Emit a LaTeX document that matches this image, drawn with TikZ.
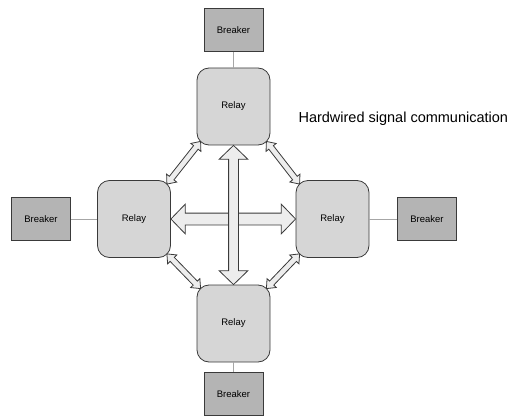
\documentclass[tikz,border=0pt]{standalone}
\usepackage{fontspec}
\setmainfont{Liberation Sans}
\usepackage{xcolor}
\usetikzlibrary{calc,shapes,arrows}

\definecolor{relaygray}{HTML}{D6D6D6}
\definecolor{breakergray}{HTML}{B4B4B4}
\definecolor{arrowgray}{HTML}{EDEDED}
\definecolor{edgegray}{HTML}{3A3A3A}

\tikzset{
	relay/.style={draw=edgegray, fill=relaygray, rounded corners=12pt, minimum width=73pt, minimum height=77pt, font=\fontsize{9.5}{11}\selectfont, line width=0.8pt},
	breaker/.style={draw=edgegray, fill=breakergray, minimum width=59pt, minimum height=43pt, font=\fontsize{9.5}{11}\selectfont, line width=0.8pt},
	link/.style={draw=gray!70, line width=0.8pt},
	commarrow/.style={double arrow, draw=edgegray, fill=arrowgray, line width=0.8pt, inner xsep=0pt, outer sep=0pt, minimum width=0pt}
}

\newcommand{\dblarrow}[5]{%
	\path let \p1=(#1), \p2=(#2), \n1={atan2(\y2-\y1,\x2-\x1)}, \n2={veclen(\x2-\x1,\y2-\y1)} in
		node[commarrow, rotate=\n1, minimum height=\n2, inner ysep=#3, double arrow head extend=#4, double arrow tip angle=#5] at ($(#1)!0.5!(#2)$) {};
}

\begin{document}
\begin{tikzpicture}[x=1pt, y=1pt]
		\useasboundingbox (0,0) rectangle (512,416);

		\draw (233.5, 309.5) node[relay] (relT) {Relay};
		\draw (134, 197)     node[relay] (relL) {Relay};
		\draw (332.5, 197)   node[relay] (relR) {Relay};
		\draw (233.5, 92.5)  node[relay] (relB) {Relay};

		\draw (233.5, 386) node[breaker] (brkT) {Breaker};
		\draw (41, 197)    node[breaker] (brkL) {Breaker};
		\draw (427, 197)   node[breaker] (brkR) {Breaker};
		\draw (233.5, 22)  node[breaker] (brkB) {Breaker};

		\draw[link] (brkT) -- (relT);
		\draw[link] (brkL) -- (relL);
		\draw[link] (brkR) -- (relR);
		\draw[link] (brkB) -- (relB);

		\draw (295, 297) node[anchor=west, font=\fontsize{14.5}{17}\selectfont] (sig) {Hardwired signal communication};

		\coordinate (tSW) at ($(relT.south west)+(4,4)$);
		\coordinate (tSE) at ($(relT.south east)+(-4,4)$);
		\coordinate (bNW) at ($(relB.north west)+(4,-4)$);
		\coordinate (bNE) at ($(relB.north east)+(-4,-4)$);
		\coordinate (lNE) at ($(relL.north east)+(-4,-4)$);
		\coordinate (lSE) at ($(relL.south east)+(-4,4)$);
		\coordinate (rNW) at ($(relR.north west)+(4,-4)$);
		\coordinate (rSW) at ($(relR.south west)+(4,4)$);

		\dblarrow{lNE}{tSW}{2.5pt}{3.5pt}{80}
		\dblarrow{tSE}{rNW}{2.5pt}{3.5pt}{80}
		\dblarrow{lSE}{bNW}{2.5pt}{3.5pt}{80}
		\dblarrow{bNE}{rSW}{2.5pt}{3.5pt}{80}

		\dblarrow{relL.east}{relR.west}{5.5pt}{9pt}{92}
		\dblarrow{relT.south}{relB.north}{4.5pt}{9.5pt}{92}

	\end{tikzpicture}
\end{document}
